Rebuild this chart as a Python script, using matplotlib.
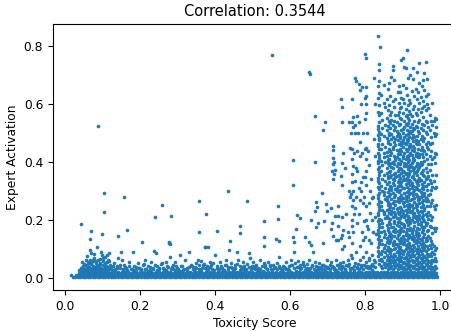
import numpy as np
import matplotlib.pyplot as plt

# all values are in thousandths (x = toxicity, y = activation)

# dense floor of the band: rows of points at near-zero activation
band_row_y = [3, 9, 15, 21]
band_row_x = [
    "20 26 33 40 47 53 60 67 74 80 87 94 101 107 114 121 128 134 141 148 155 161 168 175 182 188 195 202 209 215 "
    "222 229 236 242 249 256 263 269 276 283 290 296 303 310 317 323 330 337 344 350 357 364 371 377 384 391 398 404 "
    "411 418 425 431 438 445 452 458 465 472 479 485 492 499 506 512 519 526 533 539 546 553 560 566 573 580 587 593 "
    "600 607 614 620 627 634 641 647 654 661 668 674 681 688 695 701 708 715 722 728 735 742 749 755 762 769 776 782 "
    "789 796 803 809 816 823 830 836 843 850 857 863 870 877 884 890 897 904 911 917 924 931 938 944 951 958 965 971 "
    "978 985 992",
    "29 36 43 50 56 63 70 77 83 90 97 104 111 117 124 131 138 144 151 158 165 171 178 185 192 198 205 212 219 225 "
    "232 239 246 252 259 266 273 279 286 293 300 306 313 320 327 333 340 347 354 360 367 374 381 387 394 401 408 414 "
    "421 428 435 441 448 455 462 468 475 482 489 495 502 509 516 522 529 536 543 549 556 563 570 576 583 590 597 603 "
    "610 617 624 630 637 644 651 657 664 671 678 684 691 698 705 711 718 725 732 738 745 752 759 765 772 779 786 792 "
    "799 806 813 819 826 833 840 846 853 860 867 873 880 887 894 900 907 914 921 927 934 941 948 954 961 968 975 981 988",
    "38 46 52 61 67 75 83 89 98 105 112 119 127 133 142 149 156 163 171 178 186 192 201 208 216 223 230 238 245 253 "
    "261 268 276 283 291 298 306 313 321 328 336 343 351 358 366 374 381 389 396 404 411 419 426 434 441 449 457 464 "
    "472 479 487 494 502 509 517 525 532 540 547 555 562 570 577 585 592 600 608 615 623 630 638 645 653 660 668 676 "
    "683 691 698 706 713 721 728 736 743 751 759 766 774 781 789 796 804 811 819 826 834 841 849 856 864 871 879 886 "
    "894 901 909 916 924 931 939 946 954 961 969 976 984 990",
    "44 51 59 70 78 86 95 103 115 124 131 140 152 160 168 181 190 199 211 220 228 241 250 262 271 280 293 302 311 "
    "324 333 345 354 362 376 385 393 407 416 428 437 446 459 468 477 490 499 511 520 529 542 551 563 572 581 594 603 "
    "615 624 633 646 655 667 676 685 698 707 719 728 737 750 759 771 780 789 802 811 823 832 841 850 859 868 877 886 "
    "895 904 913 922 931 940 949 958 967 976 985",
]

# ragged top of the band, x < 0.83
fringe_x = [16, 38, 42, 45, 48, 50, 53, 55, 57, 60, 62, 63, 65, 66, 68, 70, 71, 72, 74, 75, 77, 78, 80, 81, 83, 84,
            86, 88, 90, 91, 93, 95, 97, 98, 100, 102, 104, 106, 108, 110, 112, 114, 116, 118, 120, 123, 126, 130,
            134, 138, 142, 145, 148, 152, 155, 158, 162, 166, 170, 175, 180, 184, 188, 193, 197, 202, 207, 212,
            216, 220, 225, 230, 234, 238, 242, 246, 250, 255, 260, 264, 268, 272, 276, 280, 284, 288, 292, 296,
            300, 305, 310, 315, 320, 325, 330, 335, 340, 345, 350, 355, 358, 362, 366, 370, 374, 378, 382, 386,
            390, 395, 400, 404, 408, 412, 416, 420, 425, 430, 434, 438, 442, 446, 450, 454, 458, 462, 466, 470,
            474, 478, 482, 486, 490, 494, 498, 502, 506, 510, 515, 520, 525, 530, 534, 538, 542, 546, 550, 555,
            560, 565, 570, 574, 578, 582, 586, 590, 594, 598, 602, 606, 610, 614, 618, 622, 626, 630, 634, 638,
            642, 646, 650, 654, 658, 662, 666, 670, 674, 678, 682, 686, 690, 694, 698, 702, 706, 710, 714, 718,
            722, 726, 730, 734, 738, 742, 746, 750, 754, 758, 762, 766, 770, 774, 778, 782, 786, 790, 794, 798,
            802, 806, 810, 814, 818, 822, 826,
            46, 51, 56, 59, 64, 67, 73, 76, 82, 85, 92, 96, 101, 107, 111, 115]
fringe_y = [10, 28, 35, 22, 40, 30, 25, 45, 33, 55, 28, 38, 62, 30, 48, 85, 35, 25, 58, 42, 30, 70, 38, 52, 28, 45,
            33, 62, 40, 28, 50, 35, 80, 30, 45, 58, 32, 72, 40, 28, 55, 36, 85, 30, 45, 38, 28, 52,
            30, 42, 68, 35, 90, 60, 30, 45, 35, 28, 55, 32, 88, 40, 28, 50, 35, 30, 45, 60,
            32, 40, 28, 55, 35, 92, 85, 40, 30, 48, 35, 28, 55, 40, 120, 72, 38, 30, 55, 42,
            32, 80, 40, 28, 60, 35, 88, 45, 30, 38, 52, 62, 45, 58, 35, 48, 105, 40, 32, 55,
            45, 50, 80, 35, 30, 55, 40, 28, 45, 62, 38, 95, 50, 35, 28, 45, 90, 60, 40, 32,
            55, 40, 30, 48, 85, 70, 40, 55, 30, 45, 35, 60, 40, 50, 45, 30, 55, 40, 32, 45,
            38, 50, 72, 35, 28, 42, 35, 55, 30, 40, 62, 45, 88, 50, 38, 58, 45, 35, 55, 40,
            30, 48, 62, 35, 45, 90, 55, 40, 32, 50, 38, 45, 30, 40, 60, 35, 45, 55, 38, 30,
            62, 45, 35, 50, 40, 55, 30, 45, 62, 48, 35, 70, 40, 52, 35, 48, 60, 38, 72, 45,
            55, 40, 62, 35, 48, 40, 55,
            55, 48, 62, 75, 52, 95, 60, 82, 58, 105, 66, 88, 70, 52, 78, 60]

# second, lower layer of the ragged band top
fringe2_x = [41, 47, 52, 58, 64, 69, 73, 79, 85, 89, 94, 99, 105, 111, 117, 122, 127, 133, 139, 146,
             153, 159, 164, 171, 177, 183, 189, 196, 203, 209, 214, 221, 227, 233, 239, 245, 251, 258, 263, 269,
             275, 281, 287, 293, 299, 306, 312, 318, 324, 331, 337, 343, 349, 356, 361, 367, 373, 379, 385, 392,
             398, 405, 411, 417, 423, 429, 435, 441, 447, 453, 459, 465, 471, 477, 483, 489, 495, 501, 507, 513,
             519, 527, 533, 539, 545, 552, 558, 564, 571, 577, 583, 589, 596, 603, 609, 615, 621, 627, 633, 639,
             645, 651, 657, 663, 669, 675, 681, 687, 693, 699, 705, 711, 717, 723, 729, 735, 741, 747, 753, 759,
             765, 771, 777, 783, 789, 795, 801, 807, 813, 819, 825]
fringe2_y = [26, 38, 31, 44, 29, 52, 35, 27, 41, 33, 47, 29, 36, 24, 58, 31, 40, 27, 34, 45,
             28, 37, 25, 42, 30, 26, 39, 33, 27, 48, 31, 25, 36, 29, 43, 27, 34, 52, 30, 26,
             38, 29, 44, 27, 33, 25, 40, 31, 28, 36, 42, 27, 35, 30, 25, 46, 33, 28, 38, 31,
             26, 41, 29, 35, 27, 44, 30, 37, 25, 33, 48, 28, 36, 31, 26, 39, 29, 34, 42, 27,
             32, 25, 38, 30, 45, 27, 35, 29, 41, 26, 36, 31, 28, 43, 33, 25, 39, 30, 47, 28,
             35, 27, 41, 32, 26, 38, 30, 44, 28, 36, 29, 40, 33, 26, 45, 31, 37, 28, 42, 30,
             34, 27, 39, 31, 46, 29, 36, 33, 41, 28, 38]

# scattered points above the band, x < 0.83
sparse_x = [43, 69, 66, 87, 98, 103, 103, 142, 158, 166, 205, 240, 259, 282, 278, 280, 357, 358, 376, 372, 380,
            434, 406, 440, 485, 466, 466, 552, 650, 653, 568, 567, 531, 531, 531, 562, 570, 607, 607, 615, 618,
            626, 607, 610, 640, 650, 655, 656, 667, 666, 668, 671, 666, 668, 675, 686, 688, 687, 690, 696, 697,
            709, 694, 720, 712, 710, 715, 722, 728, 728, 728, 728,
            736, 739, 737, 740, 738, 735, 739, 737, 741, 738, 736, 739, 745, 748, 744,
            714, 713, 715, 714, 712, 716, 714, 718, 719,
            756, 759, 757, 760, 755, 758, 761,
            764, 767, 765, 768, 763, 766, 769, 765, 767, 764, 766, 768, 763, 767, 765, 769, 764, 766, 768, 765,
            773, 776, 778, 774, 772, 777, 775, 779, 773, 776, 774, 778, 775,
            783, 786, 788, 784, 782, 787, 785, 789, 783, 786, 784, 787,
            791, 794, 792, 795, 790, 793, 796, 791, 794,
            800, 802, 801, 803, 799, 801, 802, 800, 804, 801, 799, 803, 801, 800, 802, 798, 803, 801, 805, 800, 802,
            808, 811, 813, 809, 812, 807, 811, 810,
            816, 819, 817, 820, 815, 818,
            823, 826, 824, 827, 822, 825, 828, 824]
sparse_y = [186, 162, 133, 525, 150, 293, 226, 145, 279, 166, 124, 209, 251, 215, 125, 118, 267, 158, 219, 106, 106,
            300, 162, 127, 267, 178, 154, 770, 710, 704, 250, 202, 197, 141, 111, 135, 128, 406, 320, 168, 216,
            207, 140, 125, 140, 125, 112, 200, 560, 400, 262, 245, 230, 174, 190, 293, 510, 120, 195, 255, 232,
            240, 540, 215, 190, 168, 145, 130, 250, 215, 180, 130,
            618, 590, 540, 430, 397, 352, 320, 210, 165, 148, 137, 100, 380, 220, 110,
            457, 442, 413, 395, 370, 360, 340, 400, 374,
            540, 450, 300, 280, 160, 140, 80,
            618, 555, 540, 520, 500, 445, 430, 410, 385, 360, 330, 300, 290, 270, 250, 220, 200, 180, 160, 120,
            690, 680, 560, 530, 500, 440, 380, 370, 335, 280, 240, 190, 90,
            670, 650, 600, 540, 500, 470, 420, 330, 310, 270, 220, 110,
            660, 500, 430, 350, 300, 260, 195, 160, 130,
            775, 760, 660, 630, 620, 600, 570, 550, 500, 450, 445, 410, 370, 350, 320, 280, 250, 200, 180, 140, 90,
            440, 390, 300, 260, 225, 170, 130, 70,
            340, 275, 200, 160, 120, 80,
            690, 600, 480, 420, 280, 210, 150, 60]

# near-solid column at toxicity ~0.835
col_x = [834, 839, 837, 836, 838, 833, 836, 835, 837, 834, 836, 838, 833, 835, 837, 834, 836, 838, 833, 835,
         837, 834, 836, 838, 833, 835, 837, 834, 836, 838, 833, 835, 837, 834, 836, 838, 833, 835, 837, 834,
         836, 838, 833, 835, 837, 834, 836, 838, 833, 835, 837, 834, 836, 838, 833, 835, 837, 834, 836, 838]
col_y = [835, 798, 740, 720, 680, 662, 640, 622, 598, 575, 562, 540, 526, 514, 503, 494, 483, 476, 464, 455,
         446, 433, 426, 414, 404, 396, 384, 377, 365, 354, 346, 334, 327, 314, 306, 294, 286, 275, 266, 254,
         246, 236, 224, 216, 204, 196, 186, 174, 166, 154, 146, 135, 124, 116, 106, 94, 85, 74, 62, 48]

# main cluster, x 0.842 - 0.990: one string of activations per toxicity column
clus_cols = [842, 846, 849, 853, 857, 860, 864, 867, 870, 874, 877, 881, 884, 887, 891, 894, 897, 901, 904, 908,
             911, 914, 918, 921, 924, 928, 931, 935, 938, 941, 945, 948, 951, 955, 958, 962, 965, 969, 972, 976,
             979, 983, 986, 990]
clus_vals = [
    "41 66 83 129 158 201 247 263 318 371 404 447 496 571 633",
    "33 57 94 117 176 188 236 301 342 389 463 518 547",
    "47 71 102 141 163 219 228 287 296 357 418 431 489 606 665",
    "36 52 88 113 151 207 274 311 336 402 452 527 589",
    "44 62 79 97 124 139 182 215 233 268 279 325 361 378 421 436 483 512 553 617",
    "31 49 73 108 131 166 171 208 251 262 297 344 351 396 408 467 474 526 581 652",
    "39 58 67 92 119 143 157 193 224 239 283 306 332 367 389 411 447 493 502 541 598 672",
    "34 51 86 101 128 152 186 203 246 255 291 318 349 371 426 438 462 518 535 563 628",
    "42 63 77 96 136 147 174 219 231 271 303 313 356 384 398 431 479 496 547 575 693",
    "29 55 71 112 122 163 177 211 242 258 293 327 341 381 402 446 451 487 529 612 720 733",
    "46 61 83 99 127 144 189 197 228 266 279 322 337 359 392 421 468 512 542 589 683",
    "37 53 74 104 118 158 169 214 222 251 288 307 348 363 407 414 459 481 523 562 618",
    "43 66 89 117 139 181 206 237 265 299 311 352 387 418 443 491 506 538",
    "32 48 69 93 111 148 161 193 229 243 276 318 332 371 396 428 477 501 563 644",
    "40 57 78 103 132 151 178 197 219 262 274 298 337 355 376 412 437 463 498 527 574 606 663",
    "35 46 64 86 108 121 157 166 206 227 245 281 302 326 344 381 392 427 446 482 491 533 552 587 641",
    "41 59 73 97 128 137 171 191 214 238 268 286 319 331 363 377 404 439 458 471 511 548 592 622 754",
    "31 52 81 94 116 143 162 187 222 231 257 277 309 339 351 371 413 422 452 478 502 516 571 617 668 761",
    "38 56 67 91 123 134 176 183 209 248 261 293 312 341 367 388 398 433 466 487 523 541 603 729",
    "29 47 72 99 112 149 159 201 217 236 271 283 324 337 359 394 411 444 462 493 532 558 583 655 726",
    "44 62 84 106 129 153 168 192 228 253 266 297 315 346 364 385 421 438 469 481 511 527 562 632 788",
    "33 51 66 88 117 138 181 203 214 244 279 301 328 351 377 402 416 447 476 497 536 553 599 691",
    "39 58 79 103 121 147 166 196 207 239 256 289 306 339 358 383 407 426 455 488 507 546 576 614",
    "28 46 71 94 109 141 173 188 226 247 268 294 321 334 369 391 432 451 463 499 521 568 603 702",
    "42 61 82 98 133 156 162 199 231 252 273 309 327 348 382 396 423 441 484 506 531 558 647",
    "35 53 74 91 115 146 168 211 219 241 287 297 318 353 374 403 414 457 472 493 517 584 689 726",
    "40 57 78 107 127 137 178 192 223 262 277 302 342 361 379 409 437 448 488 513 542 593 628",
    "31 48 67 96 119 151 161 206 214 246 255 291 314 336 366 388 421 429 466 478 526 569 652",
    "44 63 85 101 131 144 173 198 236 249 284 308 329 357 371 398 433 461 492 521 563 617 711",
    "29 52 72 89 111 138 156 187 209 227 268 281 321 339 376 392 417 446 474 507 538 582 643",
    "37 56 79 98 124 149 169 202 218 257 274 303 333 346 383 418 427 463 502 547 603 674 741",
    "33 49 68 93 117 133 181 193 232 244 279 296 337 362 389 402 441 481 518 572 624",
    "42 60 83 106 129 158 176 209 226 261 287 311 326 367 394 428 452 492 533 586 662",
    "31 54 73 96 121 141 167 203 217 253 268 306 319 357 373 416 443 472 511 557 611 683",
    "39 58 76 103 114 152 174 196 233 241 282 293 331 352 403 437 484 527 594 648 707",
    "28 47 69 92 126 139 183 188 221 264 277 316 341 381 428 461 503 542 581 628 747",
    "44 62 84 109 131 162 191 212 248 272 303 344 366 411 452 498 537 601 686",
    "35 55 77 99 143 167 204 226 267 287 326 353 394 447 471 521 588 637",
    "41 58 81 114 136 178 218 247 291 337 372 422 463 512 562",
    "30 52 74 103 128 176 199 257 302 327 392 437 488 542",
    "38 63 89 118 154 211 269 314 357 411 466 527 604",
    "32 57 84 111 171 247 336 418 502 541",
    "42 68 96 163 238 309 398 433 489 553",
    "34 59 102 173 251 313 354 428 497 523 548",
]

# assemble point arrays
xs = [np.array(band_row_x[i].split(), float) for i in range(len(band_row_y))]
ys = [np.full(len(xs[i]), band_row_y[i], float) for i in range(len(band_row_y))]
xs += [np.array(fringe_x, float), np.array(fringe2_x, float), np.array(sparse_x, float), np.array(col_x, float)]
ys += [np.array(fringe_y, float), np.array(fringe2_y, float), np.array(sparse_y, float), np.array(col_y, float)]
for cx, vals in zip(clus_cols, clus_vals):
    v = np.array(vals.split(), float)
    xs.append(np.full(len(v), cx, float))
    ys.append(v)
toxicity = np.concatenate(xs) / 1000
activation = np.concatenate(ys) / 1000

plt.rcParams['font.size'] = 8.8

fig = plt.figure(figsize=(4.52, 3.31), dpi=100)
ax = fig.add_axes([0.117, 0.124, 0.894, 0.803])
ax.scatter(toxicity, activation, s=4.5, color='#1f77b4', linewidths=0.5)
ax.set_xlim(-0.033, 1.045)
ax.set_ylim(-0.042, 0.877)
ax.set_xticks([0.0, 0.2, 0.4, 0.6, 0.8, 1.0])
ax.set_yticks([0.0, 0.2, 0.4, 0.6, 0.8])
ax.set_xlabel('Toxicity Score', labelpad=3)
ax.set_ylabel('Expert Activation', labelpad=3)
ax.set_title('Correlation: 0.3544', fontsize=10.5)

fig.savefig('out.png', dpi=100)
